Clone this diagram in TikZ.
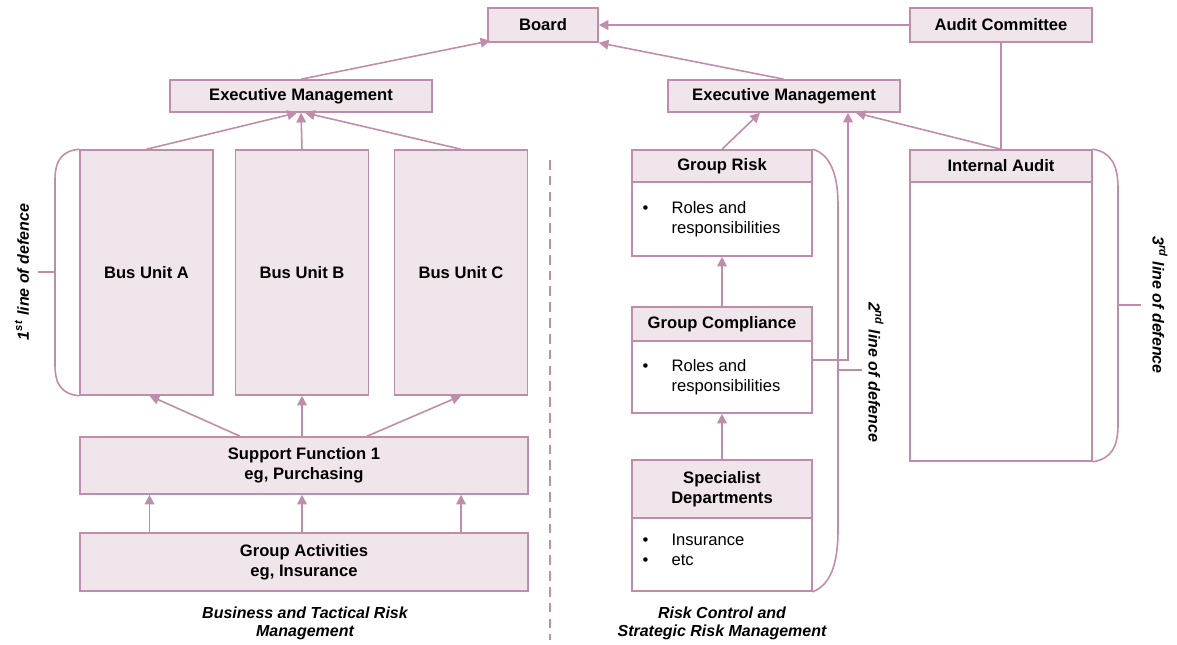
\documentclass[tikz,border=0pt]{standalone}
\usepackage{fontspec}
\setmainfont{Liberation Sans}
\usepackage{tikz}
\usetikzlibrary{arrows.meta}
\usetikzlibrary{calc}

\definecolor{mauve}{RGB}{192,140,172}
\definecolor{blush}{RGB}{241,229,236}
\newcommand{\dfont}{\fontsize{9.45}{11.3}\selectfont}

\tikzset{
  unit/.style={draw=mauve, fill=blush, line width=0.9pt, font=\dfont\bfseries, align=center, inner sep=0pt},
  body/.style={draw=mauve, fill=white, line width=0.9pt, inner sep=0pt},
  bullets/.style={anchor=north west, inner sep=0pt, font=\dfont},
  arr/.style={draw=mauve, line width=0.9pt, -{Triangle[length=5.5pt,width=5.5pt]}},
  link/.style={draw=mauve, line width=0.9pt},
  side/.style={font=\fontsize{9.1}{10.2}\selectfont\bfseries\itshape, align=center},
}

\begin{document}
\begin{tikzpicture}[x=0.02cm, y=-0.02cm]
  \useasboundingbox (0,0) rectangle (1177,645);

  % top
  \node[unit, minimum width=2.2cm, minimum height=0.68cm] (board) at (543,25) {Board};
  \node[unit, minimum width=3.64cm, minimum height=0.68cm] (audit) at (1001,25) {Audit Committee};
  \node[unit, minimum width=5.24cm, minimum height=0.64cm] (execL) at (301,96) {Executive Management};
  \node[unit, minimum width=4.64cm, minimum height=0.64cm] (execR) at (784,96) {Executive Management};

  % left side
  \node[unit, minimum width=2.66cm, minimum height=4.9cm] (busA) at (146.5,272.5) {Bus Unit A};
  \node[unit, minimum width=2.66cm, minimum height=4.9cm] (busB) at (302,272.5) {Bus Unit B};
  \node[unit, minimum width=2.66cm, minimum height=4.9cm] (busC) at (461,272.5) {Bus Unit C};
  \node[unit, minimum width=8.96cm, minimum height=1.14cm] (support) at (304,465.5) {Support Function 1\\eg, Purchasing};
  \node[unit, minimum width=8.96cm, minimum height=1.16cm] (acts) at (304,562) {Group Activities\\eg, Insurance};

  % right side
  \node[unit, minimum width=3.6cm, minimum height=0.64cm] (grHead) at (722,166) {Group Risk};
  \node[body, minimum width=3.6cm, minimum height=1.48cm] (grBody) at (722,219) {};
  \node[bullets] (grText) at ($(grBody.north west)+(11,18)$)
    {\begin{tabular}{@{}p{0.58cm}@{}l@{}}\textbullet & Roles and\\ & responsibilities\end{tabular}};

  \node[unit, minimum width=3.6cm, minimum height=0.68cm] (gcHead) at (722,324) {Group Compliance};
  \node[body, minimum width=3.6cm, minimum height=1.44cm] (gcBody) at (722,377) {};
  \node[bullets] (gcText) at ($(gcBody.north west)+(11,17)$)
    {\begin{tabular}{@{}p{0.58cm}@{}l@{}}\textbullet & Roles and\\ & responsibilities\end{tabular}};

  \node[unit, minimum width=3.6cm, minimum height=1.16cm] (sdHead) at (722,489) {Specialist\\Departments};
  \node[body, minimum width=3.6cm, minimum height=1.46cm] (sdBody) at (722,554.5) {};
  \node[bullets] (sdText) at ($(sdBody.north west)+(11,14)$)
    {\begin{tabular}{@{}p{0.58cm}@{}l@{}}\textbullet & Insurance\\ \textbullet & etc\end{tabular}};

  \node[unit, minimum width=3.64cm, minimum height=0.64cm] (iaHead) at (1001,166) {Internal Audit};
  \node[body, minimum width=3.64cm, minimum height=5.58cm] (iaBody) at (1001,321.5) {};

  % connectors
  \draw[arr] (audit.west) -- (board.east);
  \draw[arr] (execL.north) -- ($(board.south west)+(3,-2)$);
  \draw[arr] (execR.north) -- (board.south east);
  \draw[link] (audit.south) -- (iaHead.north);
  \draw[arr] (iaHead.north) -- ($(execR.south east)+(-45,0)$);

  \draw[arr] (busA.north) -- ($(execL.south)+(-4,0)$);
  \draw[arr] (busB.north) -- (execL.south);
  \draw[arr] (busC.north) -- ($(execL.south)+(4,0)$);
  \draw[arr] ($(support.north)+(-64,0)$) -- ($(busA.south)+(3,0)$);
  \draw[arr] (support.north -| busB) -- (busB.south);
  \draw[arr] ($(support.north)+(63,0)$) -- (busC.south);
  \draw[arr] ($(acts.north -| busA)+(3,0)$) -- ($(support.south -| busA)+(3,0)$);
  \draw[arr] (acts.north -| busB) -- (support.south -| busB);
  \draw[arr] (acts.north -| busC) -- (support.south -| busC);

  \draw[arr] (grHead.north) -- ($(execR.south)+(-24,0)$);
  \draw[arr] (gcHead.north) -- (grBody.south);
  \draw[arr] (sdHead.north) -- (gcBody.south);
  \draw[arr] ($(gcBody.east)+(0,-17)$) -| ($(execR.south)+(64,0)$);

  % braces
  \draw[link] (busA.north west) .. controls (62,151) and (55,160) .. (55,180) -- (55,365)
    .. controls (55,385) and (62,394) .. (busA.south west);
  \draw[link] (55,272) -- (38,272);
  \draw[link] (grHead.north east) .. controls (832,155) and (838,178) .. (838,205) -- (838,530)
    .. controls (838,565) and (830,585) .. (sdBody.south east);
  \draw[link] (838,370) -- (862,370);
  \draw[link] (iaHead.north east) .. controls (1111,152) and (1118,165) .. (1118,188) -- (1118,425)
    .. controls (1118,447) and (1111,459) .. (iaBody.south east);
  \draw[link] (1118,305) -- (1141,305);

  % divider
  \draw[link, dash pattern=on 5.5pt off 3.5pt] (550,160) -- (550,640);

  % side texts
  \node[side, rotate=90] (first) at (22,272) {1\textsuperscript{st} line of defence};
  \node[side, rotate=-90] (second) at (876,372) {2\textsuperscript{nd} line of defence};
  \node[side, rotate=-90] (third) at (1160,305) {3\textsuperscript{rd} line of defence};
  \node[side] (capL) at (305,623) {Business and Tactical Risk\\Management};
  \node[side] (capR) at (722,623) {Risk Control and\\Strategic Risk Management};
\end{tikzpicture}
\end{document}
